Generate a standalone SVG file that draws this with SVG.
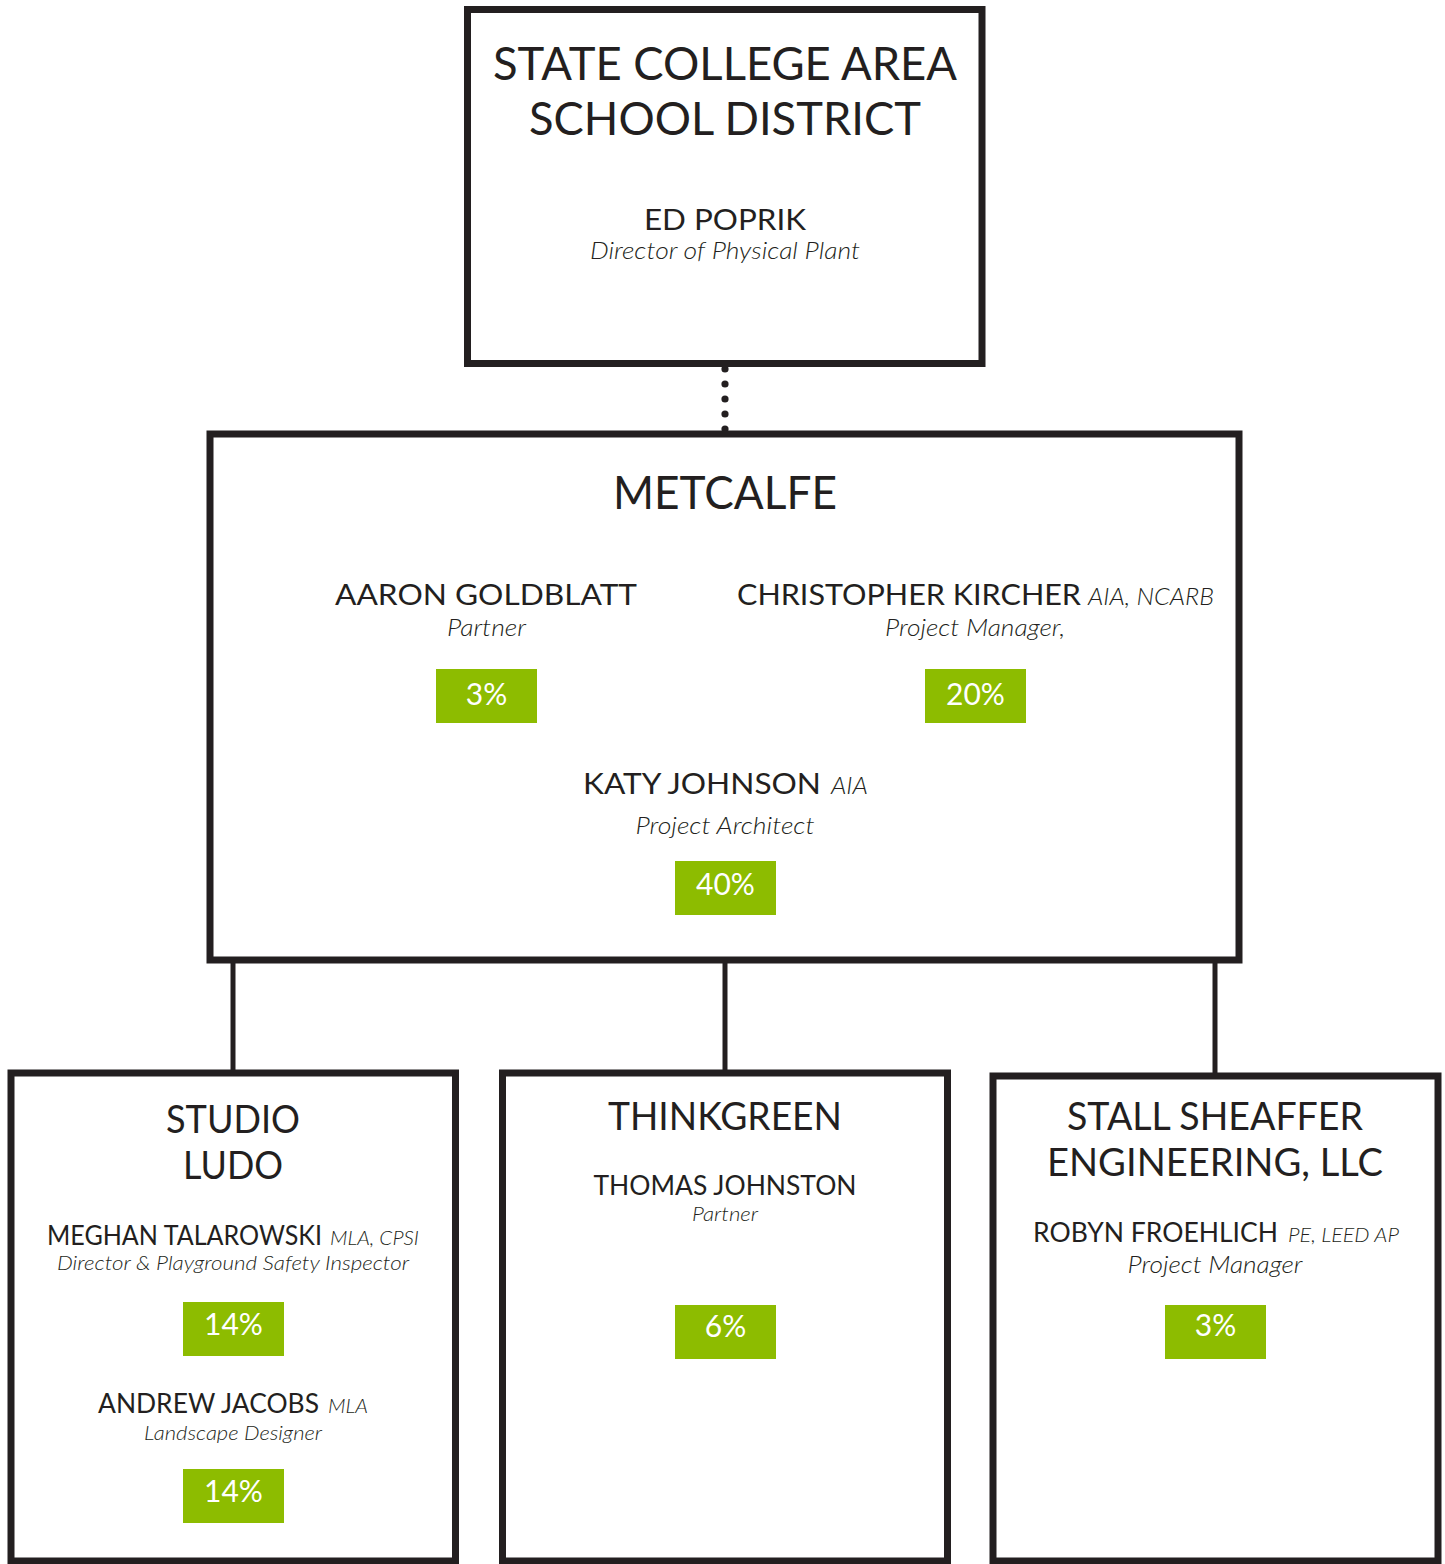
<svg xmlns="http://www.w3.org/2000/svg" width="1445" height="1564" viewBox="0 0 1445 1564">
<style>
  .box{fill:#fff;stroke:#231f20;stroke-width:7}
  .conn{stroke:#231f20;stroke-width:5;fill:none}
  .dot{fill:#231f20}
  .t{font-family:Lato,"Liberation Sans",sans-serif;fill:#231f20}
  .h1{font-size:46px;font-weight:400}
  .h2{font-size:38px;font-weight:400}
  .nm{font-size:29px;font-weight:400}
  .nms{font-size:26px;font-weight:400}
  .cr{font-size:23px;font-weight:300;font-style:italic}
  .ro{font-size:23px;font-weight:300;font-style:italic}
  .ros{font-size:20px;font-weight:300;font-style:italic}
  .pb{fill:#8dbc00}
  .pt{font-family:Lato,"Liberation Sans",sans-serif;font-size:30px;font-weight:400;fill:#fff;text-anchor:middle}
  .c{text-anchor:middle}
</style>
<g id="connectors">
  <g id="dotted-link">
    <circle class="dot" cx="725" cy="369" r="3.6"/>
    <circle class="dot" cx="725" cy="384" r="3.6"/>
    <circle class="dot" cx="725" cy="399" r="3.6"/>
    <circle class="dot" cx="725" cy="414" r="3.6"/>
    <circle class="dot" cx="725" cy="429" r="3.6"/>
  </g>
  <line class="conn" x1="233" y1="962" x2="233" y2="1071"/>
  <line class="conn" x1="725" y1="962" x2="725" y2="1071"/>
  <line class="conn" x1="1215" y1="962" x2="1215" y2="1073"/>
</g>
<g id="node-scasd">
  <rect class="box" x="467.5" y="9.5" width="514.5" height="354" stroke-width="8"/>
  <text class="t h1 c" x="725" y="80" textLength="464" lengthAdjust="spacingAndGlyphs">STATE COLLEGE AREA</text>
  <text class="t h1 c" x="725" y="135" textLength="392" lengthAdjust="spacingAndGlyphs">SCHOOL DISTRICT</text>
  <text class="t nm c" x="725" y="230" textLength="162" lengthAdjust="spacingAndGlyphs">ED POPRIK</text>
  <text class="t ro c" x="725" y="259" textLength="270" lengthAdjust="spacingAndGlyphs">Director of Physical Plant</text>
</g>
<g id="node-metcalfe">
  <rect class="box" x="210" y="434" width="1029" height="526" stroke-width="6.5"/>
  <text class="t h1 c" x="725" y="509" textLength="224" lengthAdjust="spacingAndGlyphs">METCALFE</text>
  <text class="t nm" x="335" y="605" textLength="302" lengthAdjust="spacingAndGlyphs">AARON GOLDBLATT</text>
  <text class="t ro c" x="486.5" y="636" textLength="79" lengthAdjust="spacingAndGlyphs">Partner</text>
  <rect class="pb" x="436" y="669" width="101" height="54"/>
  <text class="pt" x="486.5" y="705">3%</text>
  <text class="t nm" x="737" y="605" textLength="344" lengthAdjust="spacingAndGlyphs">CHRISTOPHER KIRCHER</text>
  <text class="t cr" x="1088" y="605" textLength="126" lengthAdjust="spacingAndGlyphs">AIA, NCARB</text>
  <text class="t ro c" x="975" y="636" textLength="180" lengthAdjust="spacingAndGlyphs">Project Manager,</text>
  <rect class="pb" x="925" y="669" width="101" height="54"/>
  <text class="pt" x="975.5" y="705">20%</text>
  <text class="t nm" x="583" y="794" textLength="238" lengthAdjust="spacingAndGlyphs">KATY JOHNSON</text>
  <text class="t cr" x="831" y="794" textLength="37" lengthAdjust="spacingAndGlyphs">AIA</text>
  <text class="t ro c" x="725" y="834" textLength="179" lengthAdjust="spacingAndGlyphs">Project Architect</text>
  <rect class="pb" x="675" y="861" width="101" height="54"/>
  <text class="pt" x="725.5" y="895">40%</text>
</g>
<g id="node-studio-ludo">
  <rect class="box" x="11" y="1073" width="444.5" height="488"/>
  <text class="t h2 c" x="233" y="1133" textLength="134" lengthAdjust="spacingAndGlyphs">STUDIO</text>
  <text class="t h2 c" x="233" y="1179" textLength="100" lengthAdjust="spacingAndGlyphs">LUDO</text>
  <text class="t nms" x="47" y="1245" textLength="275" lengthAdjust="spacingAndGlyphs">MEGHAN TALAROWSKI</text>
  <text class="t ros" x="330" y="1245" textLength="89" lengthAdjust="spacingAndGlyphs">MLA, CPSI</text>
  <text class="t ros c" x="233" y="1270" textLength="352" lengthAdjust="spacingAndGlyphs">Director &amp; Playground Safety Inspector</text>
  <rect class="pb" x="183" y="1302" width="101" height="54"/>
  <text class="pt" x="233.5" y="1335">14%</text>
  <text class="t nms" x="98" y="1413" textLength="221" lengthAdjust="spacingAndGlyphs">ANDREW JACOBS</text>
  <text class="t ros" x="328" y="1413" textLength="40" lengthAdjust="spacingAndGlyphs">MLA</text>
  <text class="t ros c" x="233" y="1440" textLength="178" lengthAdjust="spacingAndGlyphs">Landscape Designer</text>
  <rect class="pb" x="183" y="1469" width="101" height="54"/>
  <text class="pt" x="233.5" y="1502">14%</text>
</g>
<g id="node-thinkgreen">
  <rect class="box" x="502.5" y="1073" width="445" height="488"/>
  <text class="t h2 c" x="725" y="1130" textLength="234" lengthAdjust="spacingAndGlyphs">THINKGREEN</text>
  <text class="t nms c" x="725" y="1195" textLength="263" lengthAdjust="spacingAndGlyphs">THOMAS JOHNSTON</text>
  <text class="t ros c" x="725" y="1221" textLength="66" lengthAdjust="spacingAndGlyphs">Partner</text>
  <rect class="pb" x="675" y="1305" width="101" height="54"/>
  <text class="pt" x="725.5" y="1337">6%</text>
</g>
<g id="node-stall-sheaffer">
  <rect class="box" x="993" y="1076" width="445" height="485"/>
  <text class="t h2 c" x="1215" y="1130" textLength="296" lengthAdjust="spacingAndGlyphs">STALL SHEAFFER</text>
  <text class="t h2 c" x="1215" y="1176" textLength="336" lengthAdjust="spacingAndGlyphs">ENGINEERING, LLC</text>
  <text class="t nms" x="1033" y="1242" textLength="245" lengthAdjust="spacingAndGlyphs">ROBYN FROEHLICH</text>
  <text class="t ros" x="1288" y="1242" textLength="111" lengthAdjust="spacingAndGlyphs">PE, LEED AP</text>
  <text class="t ro c" x="1215" y="1273" textLength="175" lengthAdjust="spacingAndGlyphs">Project Manager</text>
  <rect class="pb" x="1165" y="1305" width="101" height="54"/>
  <text class="pt" x="1215.5" y="1336">3%</text>
</g>
</svg>
